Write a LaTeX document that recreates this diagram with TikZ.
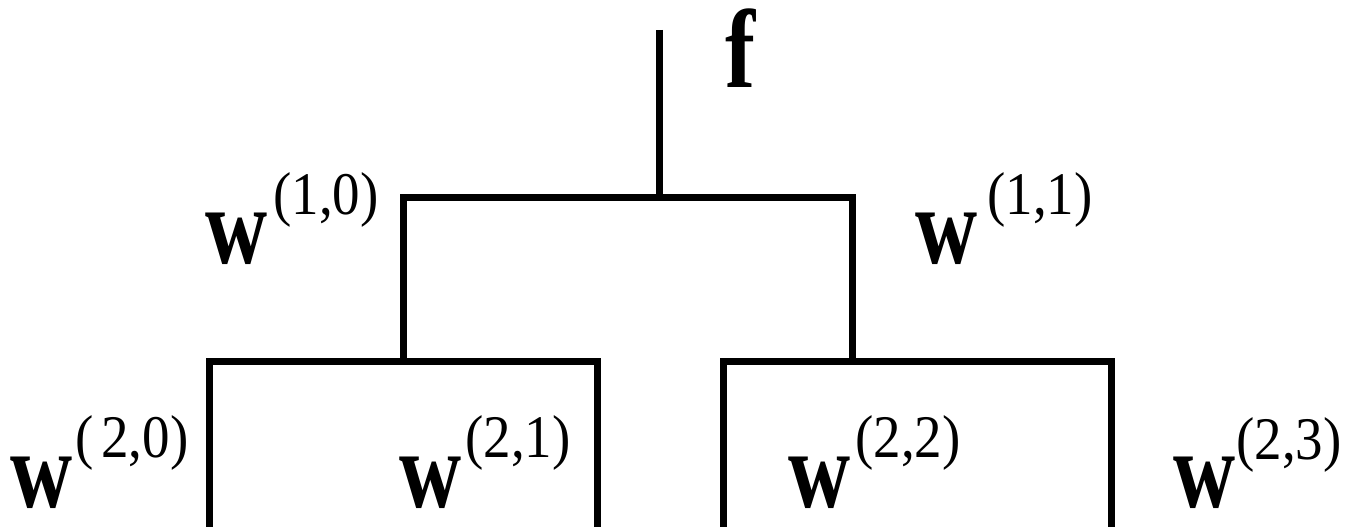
\documentclass[tikz,border=0pt]{standalone}
\usepackage{fontspec}
\usepackage{graphicx}
\setmainfont{Liberation Serif}
\begin{document}
\begin{tikzpicture}[x=1pt,y=-1pt,
  wire/.style={line width=7pt,line join=miter},
  vec/.style={inner sep=0pt,anchor=base west,
    font=\fontsize{86}{90}\selectfont\bfseries},
  idx/.style={inner sep=0pt,anchor=base west,
    font=\fontsize{55}{60}\selectfont}]
\useasboundingbox (0,0) rectangle (1365,527);

% tree wiring
\coordinate (top) at (659,30);
\coordinate (root) at (659,197);
\coordinate (n10) at (403.5,197);
\coordinate (n11) at (852.5,197);
\coordinate (m10) at (403.5,361);
\coordinate (m11) at (852.5,361);
\coordinate (a0) at (209.5,361);
\coordinate (a1) at (597,361);
\coordinate (b0) at (723,361);
\coordinate (b1) at (1111.5,361);
\coordinate (a0e) at (209.5,527);
\coordinate (a1e) at (597,527);
\coordinate (b0e) at (723,527);
\coordinate (b1e) at (1111.5,527);

\draw[wire] (top) -- (root);
\draw[wire] (m10) -- (n10) -- (n11) -- (m11);
\draw[wire] (a0e) -- (a0) -- (a1) -- (a1e);
\draw[wire] (b0e) -- (b0) -- (b1) -- (b1e);

% labels
\node[vec] (f) at (725,87) {\scalebox{1.05}[1.3]{f}};

\node[vec] (w10) at (205,263) {\scalebox{1}[1.28]{w}};
\node[idx] (s10) at (273,214) {\scalebox{1}[1.1]{(1,0)}};
\node[vec] (w11) at (915,263) {\scalebox{1}[1.28]{w}};
\node[idx] (s11) at (987,214) {\scalebox{1}[1.1]{(1,1)}};

\node[vec] (w20) at (10,507) {\scalebox{1}[1.28]{w}};
\node[idx] (s20) at (75,457) {\scalebox{1}[1.1]{(\kern8pt2,0)}};
\node[vec] (w21) at (399,507) {\scalebox{1}[1.28]{w}};
\node[idx] (s21) at (465,457) {\scalebox{1}[1.1]{(2,1)}};
\node[vec] (w22) at (788,507) {\scalebox{1}[1.28]{w}};
\node[idx] (s22) at (855,457) {\scalebox{1}[1.1]{(2,2)}};
\node[vec] (w23) at (1173,507) {\scalebox{1}[1.28]{w}};
\node[idx] (s23) at (1236,459) {\scalebox{1}[1.1]{(2,3)}};
\end{tikzpicture}
\end{document}
